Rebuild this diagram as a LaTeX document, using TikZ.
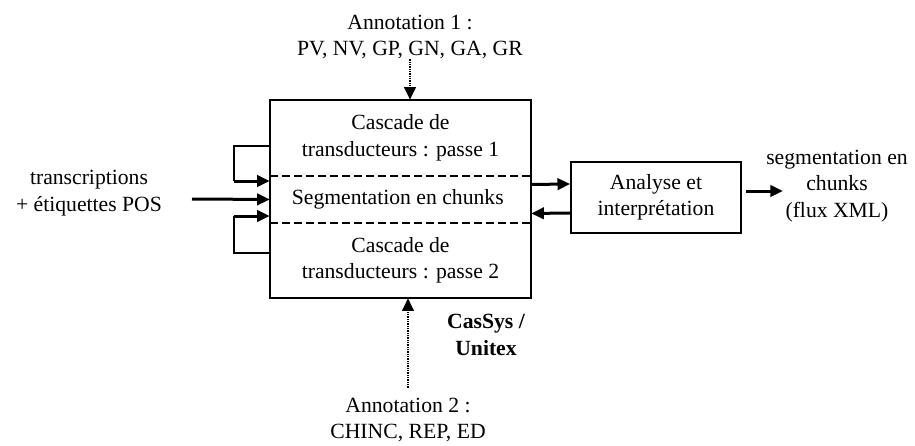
\documentclass[tikz,border=0pt]{standalone}
\usepackage{fontspec}
\setmainfont{Liberation Serif}
\usetikzlibrary{arrows.meta,positioning,calc}

\begin{document}
\begin{tikzpicture}[x=0.03cm,y=-0.03cm]
\tikzstyle{every node}=[font=\fontsize{18.5}{22.6}\selectfont, align=center, inner sep=0pt]
\tikzstyle{part}=[rectangle, minimum width=7.83cm]
\tikzstyle{fleche}=[-{Triangle[length=0.38cm,width=0.34cm]}, line width=0.09cm]
\tikzstyle{pointille}=[-{Triangle[length=0.38cm,width=0.34cm]}, line width=0.08cm,
dash pattern=on 0.045cm off 0.025cm]
\tikzstyle{boucle}=[line width=0.045cm]
\tikzstyle{separation}=[line width=0.06cm, dash pattern=on 0.24cm off 0.12cm]

\useasboundingbox (0,0) rectangle (915,446);

% cascade CasSys
\node[part, minimum height=2.28cm] at (400.5, 138) (passe1) {
Cascade de\\transducteurs : passe 1
};
\node[part, minimum height=1.38cm, below=0cm of passe1] (chunks) {
Segmentation en chunks
};
\node[part, minimum height=2.25cm, below=0cm of chunks] (passe2) {
Cascade de\\transducteurs : passe 2
};

\draw[line width=0.05cm] (passe1.north west) rectangle (passe2.south east);
\draw[separation] (passe1.south west) -- (passe1.south east);
\draw[separation] (passe2.north west) -- (passe2.north east);

\node[font=\fontsize{18.5}{22.6}\selectfont\bfseries] at (486, 335) (cassys) {
CasSys /\\Unitex
};

% entree
\node at (89, 193) (entree) {
transcriptions\\+ étiquettes POS
};
\coordinate (e) at (192, 199);
\draw[fleche] (e) -- (chunks.west);

% boucles
\coordinate (b1) at (234, 181);
\coordinate (b2) at (234, 216);
\draw[boucle] ($(passe1.west)+(0,8)$) -| (b1);
\draw[fleche] (b1) -- (b1 -| chunks.west);
\draw[boucle] ($(passe2.west)+(0,-7.5)$) -| (b2);
\draw[fleche] (b2) -- (b2 -| chunks.west);

% analyse
\node[draw, line width=0.05cm, minimum width=5.1cm, minimum height=2.13cm]
at (656, 197.5) (analyse) {
Analyse et\\interprétation
};
\draw[fleche] ($(chunks.east)+(0,-15)$) -- ($(analyse.west)+(0,-13.5)$);
\draw[fleche] ($(analyse.west)+(0,15.5)$) -- ($(chunks.east)+(0,14)$);

% sortie
\node at (837, 186) (sortie) {
segmentation en\\chunks\\(flux XML)
};
\coordinate (s) at (783, 191);
\draw[fleche] ($(analyse.east)+(4,-6.5)$) -- (s);

% annotations
\node at (410, 37) (annot1) {
Annotation 1 :\\PV, NV, GP, GN, GA, GR
};
\node at (408, 420) (annot2) {
Annotation 2 :\\CHINC, REP, ED
};
\draw[pointille] (annot1.south) -- (annot1.south |- passe1.north);
\draw[pointille] ($(annot2.north)+(0,-10)$) -- (annot2.north |- passe2.south);

\end{tikzpicture}
\end{document}
